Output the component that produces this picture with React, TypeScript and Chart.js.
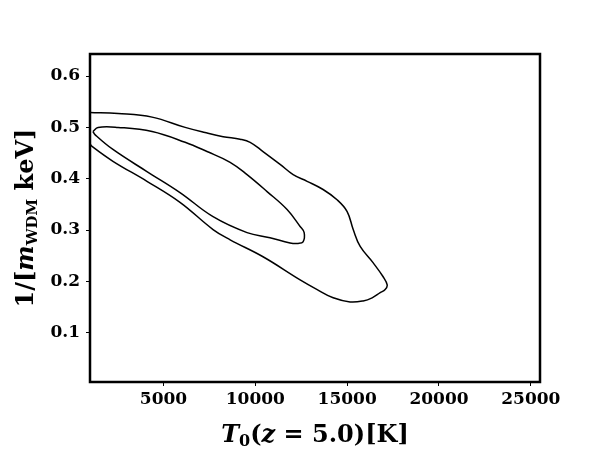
import React, { useEffect, useRef } from "react";
import { Chart, registerables } from "chart.js";
Chart.register(...registerables);

// Outer contour: T0 [K] vs 1/m_WDM
const outerT = [1000, 2530, 4380, 6180, 7260, 8250, 9170, 9720, 10420, 11350, 12060, 12820, 13690, 14450, 15000, 15330, 15710, 16420, 16960, 17180, 17070, 16800, 16360, 15870, 15160, 14240, 13370, 12440, 10420, 8630, 7700, 5900, 4100, 2250, 1110, 1000];
const outerY = [0.529, 0.527, 0.52, 0.5, 0.49, 0.482, 0.477, 0.471, 0.453, 0.428, 0.408, 0.395, 0.379, 0.359, 0.336, 0.301, 0.268, 0.236, 0.209, 0.193, 0.184, 0.178, 0.168, 0.162, 0.16, 0.168, 0.184, 0.203, 0.248, 0.281, 0.301, 0.354, 0.395, 0.434, 0.463, 0.468];
// Inner contour
const innerT = [1160, 1440, 2530, 4380, 6180, 7370, 8630, 9550, 10640, 11730, 12440, 12660, 12600, 12330, 11890, 10800, 9550, 7700, 5900, 4100, 2250, 1270, 1160];
const innerY = [0.492, 0.5, 0.5, 0.492, 0.471, 0.453, 0.432, 0.408, 0.375, 0.34, 0.307, 0.295, 0.277, 0.274, 0.275, 0.285, 0.295, 0.326, 0.373, 0.414, 0.457, 0.486, 0.492];

const xTicks = [5000, 10000, 15000, 20000, 25000];
const yTicks = [0.1, 0.2, 0.3, 0.4, 0.5, 0.6];
const xRange = [1000, 25500];
const yRange = [0.004, 0.643];

type Run = { t: string; font: string; dy?: number };

function drawRuns(ctx: CanvasRenderingContext2D, runs: Run[], cx: number, y: number) {
  let total = 0;
  const widths = runs.map((r) => {
    ctx.font = r.font;
    const w = ctx.measureText(r.t).width;
    total += w;
    return w;
  });
  let x = cx - total / 2;
  ctx.textAlign = "left";
  ctx.textBaseline = "alphabetic";
  ctx.fillStyle = "#000";
  runs.forEach((r, i) => {
    ctx.font = r.font;
    ctx.fillText(r.t, x, y + (r.dy || 0));
    x += widths[i];
  });
}

const SERIF = '"DejaVu Serif"';

const framePlugin = {
  id: "frame",
  afterDraw(chart: any) {
    const { ctx, chartArea } = chart;
    const { left, right, top, bottom } = chartArea;
    ctx.save();
    ctx.strokeStyle = "#000";
    ctx.lineWidth = 2.5;
    ctx.strokeRect(left, top, right - left, bottom - top);
    const big = 24;
    drawRuns(
      ctx,
      [
        { t: "T", font: `bold italic ${big}px ${SERIF}` },
        { t: "0", font: `bold 16px ${SERIF}`, dy: 4 },
        { t: "(", font: `bold ${big}px ${SERIF}` },
        { t: "z", font: `bold italic ${big}px ${SERIF}` },
        { t: " = 5.0)[K]", font: `bold ${big}px ${SERIF}` },
      ],
      (left + right) / 2,
      442
    );
    ctx.translate(33, (top + bottom) / 2);
    ctx.rotate(-Math.PI / 2);
    drawRuns(
      ctx,
      [
        { t: "1/[", font: `bold ${big}px ${SERIF}` },
        { t: "m", font: `bold italic ${big}px ${SERIF}` },
        { t: "WDM", font: `bold 15px ${SERIF}`, dy: 4 },
        { t: " keV]", font: `bold ${big}px ${SERIF}` },
      ],
      0,
      0
    );
    ctx.restore();
  },
};

export default function App() {
  const ref = useRef<HTMLCanvasElement | null>(null);
  useEffect(() => {
    document.body.style.margin = "0";
    const mk = (xs: number[], ys: number[]) => xs.map((x, i) => ({ x, y: ys[i] }));
    const line = (xs: number[], ys: number[]) => ({
      data: mk(xs, ys),
      showLine: true,
      borderColor: "#000",
      borderWidth: 1.5,
      pointRadius: 0,
      tension: 0.4,
      fill: false,
    });
    const chart = new Chart(ref.current as HTMLCanvasElement, {
      type: "scatter",
      data: { datasets: [line(outerT, outerY), line(innerT, innerY)] },
      options: {
        animation: false,
        responsive: false,
        devicePixelRatio: 1,
        layout: { padding: { top: 54, right: 60, left: 0, bottom: 0 } },
        plugins: { legend: { display: false }, tooltip: { enabled: false } },
        scales: {
          x: {
            type: "linear",
            min: xRange[0],
            max: xRange[1],
            afterBuildTicks: (s: any) => {
              s.ticks = xTicks.map((v) => ({ value: v }));
            },
            afterFit: (s: any) => {
              s.height = 68;
            },
            grid: { drawOnChartArea: false, drawTicks: true, tickLength: 4, tickWidth: 1, color: "#000" },
            border: { display: false },
            ticks: {
              color: "#000",
              padding: 3,
              maxRotation: 0,
              font: { family: SERIF, weight: "bold", size: 17 },
              callback: (v: any) => String(v),
            },
          },
          y: {
            type: "linear",
            min: yRange[0],
            max: yRange[1],
            afterBuildTicks: (s: any) => {
              s.ticks = yTicks.map((v) => ({ value: v }));
            },
            afterFit: (s: any) => {
              s.width = 90;
            },
            grid: { drawOnChartArea: false, drawTicks: true, tickLength: 4, tickWidth: 1, color: "#000" },
            border: { display: false },
            ticks: {
              color: "#000",
              padding: 6,
              font: { family: SERIF, weight: "bold", size: 17 },
              callback: (v: any) => Number(v).toFixed(1),
            },
          },
        },
      },
      plugins: [framePlugin],
    } as any);
    return () => chart.destroy();
  }, []);
  return (
    <canvas
      ref={ref}
      width={600}
      height={450}
      style={{ position: "fixed", left: 0, top: 0, width: 600, height: 450, background: "#fff" }}
    />
  );
}
